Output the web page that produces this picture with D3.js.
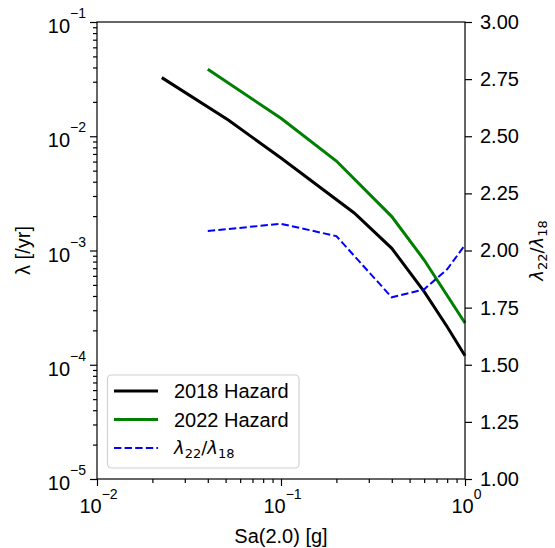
<!DOCTYPE html>
<html><head><meta charset="utf-8">
<script src="https://cdn.jsdelivr.net/npm/d3@7"></script>
<style>body{margin:0;background:#fff}svg{display:block}</style>
</head><body>
<svg id="c" width="555" height="548"></svg>
<script>
// Data
const sa2018 = [0.0225, 0.0517, 0.1, 0.25, 0.4, 0.6, 0.8, 1.0];
const haz2018 = [0.0326, 0.01387, 0.00645, 0.00213, 0.001045, 0.000436, 0.000215, 0.000120];
const sa2022 = [0.04, 0.1, 0.2, 0.4, 0.6, 1.0];
const haz2022 = [0.0386, 0.01435, 0.00607, 0.00198, 0.000826, 0.000232];
const saRatio = [0.04, 0.1, 0.2, 0.4, 0.6, 0.8, 1.0];
const ratio = [2.085, 2.117, 2.063, 1.795, 1.830, 1.918, 2.024];
const xMajor = [-2, -1, 0];
const yMajor = [-5, -4, -3, -2, -1];
const y2Ticks = [1.00, 1.25, 1.50, 1.75, 2.00, 2.25, 2.50, 2.75, 3.00];
const legendLabels = ["2018 Hazard", "2022 Hazard"];

const svg = d3.select("#c");
const L = 97, R = 465, T = 22, B = 479;
const FONT = "Liberation Sans, Arial, sans-serif";
const MATH = "DejaVu Sans, sans-serif";
const FS = 20, SUP = 14;

const x = d3.scaleLog().domain([0.01, 1]).range([L, R]);
const y = d3.scaleLog().domain([1e-5, 1e-1]).range([B, T]);
const y2 = d3.scaleLinear().domain([1, 3]).range([B, T]);

function minors(lo, hi) {
  const out = [];
  for (let e = lo; e < hi; e++) for (let m = 2; m <= 9; m++) out.push(m * Math.pow(10, e));
  return out;
}

// lines
const line = (xs, ys, yy) => d3.line().x((d, i) => x(xs[i])).y((d, i) => yy(ys[i]));
svg.append("path").datum(haz2018).attr("d", line(sa2018, haz2018, y))
  .attr("fill", "none").attr("stroke", "#000").attr("stroke-width", 3);
svg.append("path").datum(haz2022).attr("d", line(sa2022, haz2022, y))
  .attr("fill", "none").attr("stroke", "#008000").attr("stroke-width", 3);
svg.append("path").datum(ratio).attr("d", line(saRatio, ratio, y2))
  .attr("fill", "none").attr("stroke", "#0000ff").attr("stroke-width", 2)
  .attr("stroke-dasharray", "7.4,3.2");

// spines
const sp = svg.append("g").attr("stroke", "#000").attr("stroke-width", 1.2);
sp.append("rect").attr("x", L).attr("y", T).attr("width", R - L).attr("height", B - T).attr("fill", "none");

// x axis
const xa = svg.append("g").attr("transform", `translate(0,${B})`);
xa.call(d3.axisBottom(x).tickValues(xMajor.map(e => Math.pow(10, e))).tickSize(7).tickFormat(""));
xa.append("g").call(d3.axisBottom(x).tickValues(minors(-2, 0)).tickSize(4).tickFormat(""));
xa.selectAll(".domain").remove();
xa.selectAll("line").attr("stroke-width", 1.2);
xMajor.forEach(e => {
  const t = xa.append("text").attr("x", x(Math.pow(10, e)) + 1.5).attr("y", 34)
    .attr("text-anchor", "middle").attr("font-family", FONT).attr("font-size", FS).attr("fill", "#000");
  t.append("tspan").text("10");
  t.append("tspan").attr("dy", -14).attr("font-size", SUP).text(e === 0 ? "0" : "\u2212" + (-e));
});

// left y axis
const ya = svg.append("g").attr("transform", `translate(${L},0)`);
ya.call(d3.axisLeft(y).tickValues(yMajor.map(e => Math.pow(10, e))).tickSize(7).tickFormat(""));
ya.append("g").call(d3.axisLeft(y).tickValues(minors(-5, -1)).tickSize(4).tickFormat(""));
ya.selectAll(".domain").remove();
ya.selectAll("line").attr("stroke-width", 1.2);
yMajor.forEach(e => {
  const t = ya.append("text").attr("x", -11).attr("y", y(Math.pow(10, e)) + 11)
    .attr("text-anchor", "end").attr("font-family", FONT).attr("font-size", FS).attr("fill", "#000");
  t.append("tspan").text("10");
  t.append("tspan").attr("dy", -15).attr("font-size", SUP).text("\u2212" + (-e));
});

// right axis
const ra = svg.append("g").attr("transform", `translate(${R},0)`);
ra.call(d3.axisRight(y2).tickValues(y2Ticks).tickSize(7).tickPadding(8).tickFormat(d3.format(".2f")));
ra.selectAll(".domain").remove();
ra.selectAll("line").attr("stroke-width", 1.2);
ra.selectAll("text").attr("font-family", FONT).attr("font-size", FS).attr("fill", "#000");

// axis labels
svg.append("text").attr("x", (L + R) / 2).attr("y", 543).attr("text-anchor", "middle")
  .attr("font-family", FONT).attr("font-size", FS).text("Sa(2.0) [g]");
svg.append("text").attr("transform", `translate(30,${(T + B) / 2}) rotate(-90)`)
  .attr("text-anchor", "middle").attr("font-family", FONT).attr("font-size", FS).text("\u03bb [/yr]");

function mathLabel(sel) {
  sel.attr("font-family", MATH).attr("font-size", 18).attr("fill", "#000");
  sel.append("tspan").attr("font-style", "italic").text("\u03bb");
  sel.append("tspan").attr("dy", 4).attr("font-size", 13).text("22");
  sel.append("tspan").attr("dy", -4).text("/");
  sel.append("tspan").attr("font-style", "italic").text("\u03bb");
  sel.append("tspan").attr("dy", 4).attr("font-size", 13).text("18");
}
mathLabel(svg.append("text").attr("transform", `translate(543,${(T + B) / 2}) rotate(-90)`)
  .attr("text-anchor", "middle"));

// legend
const lg = svg.append("g");
lg.append("rect").attr("x", 107.5).attr("y", 375).attr("width", 191.5).attr("height", 93)
  .attr("rx", 4).attr("fill", "#fff").attr("fill-opacity", 0.8).attr("stroke", "#d0d0d0").attr("stroke-width", 1.2);
const rows = [391, 419.5, 448];
const styles = [
  {c: "#000", w: 3, d: null},
  {c: "#008000", w: 3, d: null},
  {c: "#0000ff", w: 2, d: "7.4,3.2"}
];
rows.forEach((ry, i) => {
  const l = lg.append("line").attr("x1", 114).attr("x2", 158).attr("y1", ry).attr("y2", ry)
    .attr("stroke", styles[i].c).attr("stroke-width", styles[i].w);
  if (styles[i].d) l.attr("stroke-dasharray", styles[i].d);
  if (i < 2) {
    lg.append("text").attr("x", 174).attr("y", ry + 7).attr("font-family", FONT).attr("font-size", FS)
      .text(legendLabels[i]);
  } else {
    mathLabel(lg.append("text").attr("x", 174).attr("y", ry + 6));
  }
});
</script>
</body></html>
